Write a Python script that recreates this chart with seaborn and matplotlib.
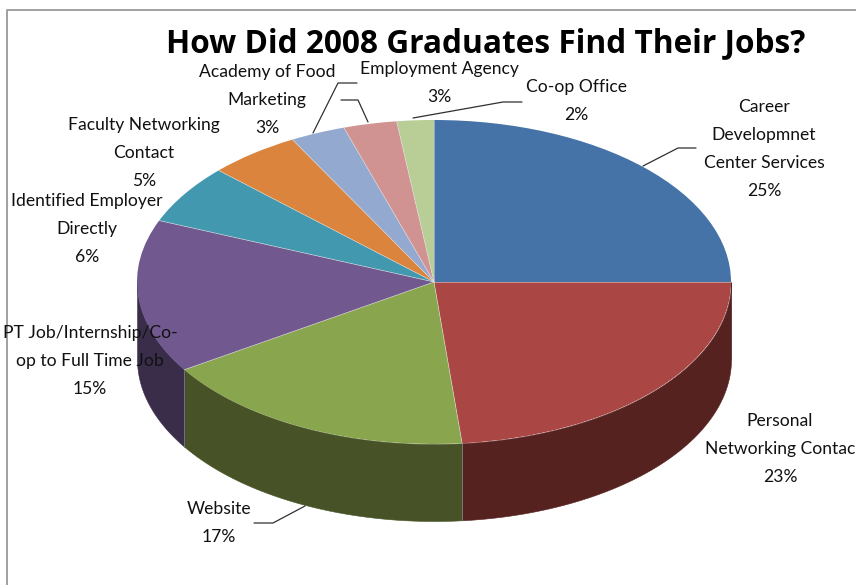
import numpy as np
import seaborn as sns
from matplotlib import pyplot as plt
from matplotlib.lines import Line2D

# values from the chart, clockwise from 12 o'clock
sources = ['Career\nDevelopmnet\nCenter Services', 'Personal\nNetworking Contac', 'Website',
           'PT Job/Internship/Co-\nop to Full Time Job', 'Identified Employer\nDirectly',
           'Faculty Networking\nContact', 'Academy of Food\nMarketing', 'Employment Agency', 'Co-op Office']
percents = [25.0, 23.49, 17.4, 15.3, 5.9, 5.0, 3.0, 2.9, 2.01]

top_colors = ['#4572A7', '#AA4643', '#89A54E', '#71588F', '#4198AF', '#DB843D', '#93A9CF', '#D19392', '#B9CD96']
wall_colors = ['#2E4A6E', '#552220', '#475327', '#3A2D4A', '#2A6373', '#8F5628', '#5F6E87', '#885F5F', '#788562']

# layout in reference pixels
W, H = 856, 585
CX, CY, RX, RY, DEPTH = 434, 282, 297, 162, 77
label_pos = [(764, 149), (780, 449), (219, 523), (90, 361), (87, 229), (144, 153), (267, 100), (439, 83), (576, 101)]
leaders = [
    [(643, 166), (678, 148), (696, 148)],
    [(305, 506), (273, 523), (254, 523)],
    [(313, 133), (338, 83), (357, 83)],
    [(368, 122), (358, 100), (341, 100)],
    [(413, 118), (503, 102), (522, 102)],
]

sns.set_theme(style='white')
plt.rcParams['font.family'] = ['Lato', 'DejaVu Sans']

fig = plt.figure(figsize=(W / 100, H / 100), dpi=100, facecolor='white')
ax = fig.add_axes([0, 0, 1, 1])

# side walls, only the front half shows
total = sum(percents)
start = 0
depth = DEPTH / RY
for pct, color in zip(percents, wall_colors):
    end = start + pct
    a = np.radians(np.linspace(360 * start / total, 360 * end / total, 120))
    x, y = np.sin(a), np.cos(a)
    front = y <= 1e-9
    if front.any():
        ax.fill_between(x[front], y[front], y[front] - depth, color=color, lw=0.4, zorder=1)
    start = end

wedges, _ = ax.pie(percents, colors=top_colors, startangle=90, counterclock=False, radius=1,
                   wedgeprops={'edgecolor': 'none', 'zorder': 2})

# faint light seams between the slices
for edge in np.cumsum(percents):
    a = np.radians(360 * edge / total)
    ax.plot([0, np.sin(a)], [0, np.cos(a)], color='#e4e4e4', lw=0.5, alpha=0.7, zorder=3)
    if np.cos(a) < -1e-6:
        ax.plot([np.sin(a)] * 2, [np.cos(a), np.cos(a) - depth], color='#8a8a8a', lw=0.5, zorder=3)

# stretch the round pie to the tilted ellipse
ax.set_aspect('auto')
ax.set_xlim((0 - CX) / RX, (W - CX) / RX)
ax.set_ylim((CY - H) / RY, (CY - 0) / RY)
ax.axis('off')


def fx(px):
    return px / W


def fy(py):
    return 1 - py / H


for name, pct, (px, py) in zip(sources, percents, label_pos):
    fig.text(fx(px), fy(py), f'{name}\n{pct:.0f}%', ha='center', va='center', ma='center',
             fontsize=12.6, linespacing=1.9, color='#111111', zorder=5)

for pts in leaders:
    fig.add_artist(Line2D([fx(p[0]) for p in pts], [fy(p[1]) for p in pts], color='#303030', lw=0.9))

fig.text(fx(486), fy(44), 'How Did 2008 Graduates Find Their Jobs?', ha='center', va='center',
         fontsize=22.8, fontweight='bold', family=['Open Sans', 'DejaVu Sans'], color='black')

# chart frame, only left and top edges are inside the crop
fig.add_artist(Line2D([fx(7), fx(7), fx(W)], [0, fy(9.5), fy(9.5)], color='#a0a0a0', lw=1.4))

fig.savefig('out.png', dpi=100)
